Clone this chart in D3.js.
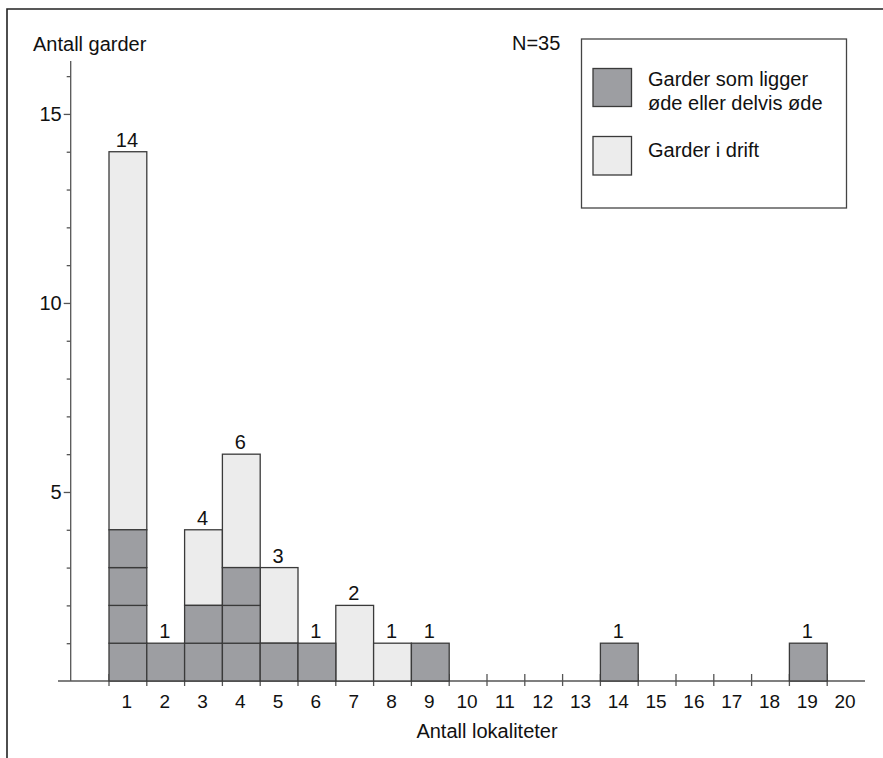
<!DOCTYPE html>
<html>
<head>
<meta charset="utf-8">
<script src="https://cdn.jsdelivr.net/npm/d3@7"></script>
<style>
  html, body { margin: 0; padding: 0; background: #fff; }
  svg { display: block; font-family: "Liberation Sans", Arial, Helvetica, sans-serif; }
</style>
</head>
<body>
<svg id="chart" width="883" height="758"></svg>
<script>
// ---- data ----
const categories = [1,2,3,4,5,6,7,8,9,10,11,12,13,14,15,16,17,18,19,20];
const odeValues   = [4,1,2,3,1,1,0,0,1,0,0,0,0,1,0,0,0,0,1,0]; // Garder som ligger øde eller delvis øde
const driftValues = [10,0,2,3,2,0,2,1,0,0,0,0,0,0,0,0,0,0,0,0]; // Garder i drift
const yMajorTicks = [5,10,15];
const yMinorTicks = [1,2,3,4,6,7,8,9,11,12,13,14,16];
const seriesNames = ["Garder som ligger", "øde eller delvis øde", "Garder i drift"];
const yTitle = "Antall garder";
const xTitle = "Antall lokaliteter";
const nLabel = "N=35";

// ---- layout ----
const svg = d3.select("#chart");
const darkFill = "#9d9ea2", lightFill = "#ececec", lineCol = "#3a3a3a", axisCol = "#555";

const x = d3.scaleBand().domain(categories).range([109, 865]).padding(0);
const y = d3.scaleLinear().domain([0, 16.4]).range([681, 61]);
const yAxisX = 70.7;

// frame (top + left only)
svg.append("path")
  .attr("d", "M7,758 L7,9 L883,9")
  .attr("fill", "none").attr("stroke", "#222").attr("stroke-width", 1.6);

// x-axis ticks at band boundaries
const boundaries = categories.map(c => x(c));
svg.append("g").selectAll("line").data(boundaries).join("line")
  .attr("x1", d => d).attr("x2", d => d)
  .attr("y1", y(0) - 7).attr("y2", y(0) + 5)
  .attr("stroke", axisCol).attr("stroke-width", 1.3);

// x-axis line
svg.append("line")
  .attr("x1", 58).attr("x2", 865).attr("y1", y(0)).attr("y2", y(0))
  .attr("stroke", axisCol).attr("stroke-width", 1.3);

// y axis
const yMajor = svg.append("g").attr("transform", `translate(${yAxisX},0)`)
  .call(d3.axisLeft(y).tickValues(yMajorTicks).tickSize(7).tickPadding(2).tickFormat(d3.format("d")));
const yMinor = svg.append("g").attr("transform", `translate(${yAxisX},0)`)
  .call(d3.axisLeft(y).tickValues(yMinorTicks).tickSize(4).tickFormat(""));
[yMajor, yMinor].forEach(g => {
  g.select(".domain").remove();
  g.selectAll("line").attr("stroke", axisCol).attr("stroke-width", 1.3);
  g.selectAll("text").attr("fill", "#111").style("font-size", "20px");
});
svg.append("line")
  .attr("x1", yAxisX).attr("x2", yAxisX).attr("y1", y(16.4)).attr("y2", y(0))
  .attr("stroke", axisCol).attr("stroke-width", 1.3);

// bars
const data = categories.map((c, i) => ({ c, ode: odeValues[i], drift: driftValues[i], total: odeValues[i] + driftValues[i] }));
const cells = [];
data.forEach(d => { for (let k = 0; k < d.ode; k++) cells.push({ c: d.c, k }); });

svg.append("g").selectAll("rect").data(data.filter(d => d.drift > 0)).join("rect")
  .attr("x", d => x(d.c)).attr("width", x.bandwidth())
  .attr("y", d => y(d.ode + d.drift)).attr("height", d => y(d.ode) - y(d.ode + d.drift))
  .attr("fill", lightFill).attr("stroke", lineCol).attr("stroke-width", 1.3);

svg.append("g").selectAll("rect").data(cells).join("rect")
  .attr("x", d => x(d.c)).attr("width", x.bandwidth())
  .attr("y", d => y(d.k + 1)).attr("height", d => y(d.k) - y(d.k + 1))
  .attr("fill", darkFill).attr("stroke", lineCol).attr("stroke-width", 1.3);

// value labels
svg.append("g").selectAll("text").data(data.filter(d => d.total > 0)).join("text")
  .attr("x", d => x(d.c) + x.bandwidth() / 2 - 1)
  .attr("y", d => y(d.total) - 5)
  .attr("text-anchor", "middle").style("font-size", "20px").attr("fill", "#111")
  .text(d => d.total);

// x tick labels
svg.append("g").selectAll("text").data(categories).join("text")
  .attr("x", d => x(d) + x.bandwidth() / 2 - 1)
  .attr("y", 708)
  .attr("text-anchor", "middle").style("font-size", "19px").attr("fill", "#111")
  .text(d => d);

// titles
svg.append("text").attr("x", 33).attr("y", 51).style("font-size", "20px").attr("fill", "#111").text(yTitle);
svg.append("text").attr("x", 487).attr("y", 738).attr("text-anchor", "middle").style("font-size", "20px").attr("fill", "#111").text(xTitle);
svg.append("text").attr("x", 512).attr("y", 50).style("font-size", "20px").attr("fill", "#111").text(nLabel);

// legend
const lg = svg.append("g");
lg.append("rect").attr("x", 581.5).attr("y", 39).attr("width", 265).attr("height", 169)
  .attr("fill", "#fff").attr("stroke", "#444").attr("stroke-width", 1.3);
lg.append("rect").attr("x", 593).attr("y", 68.5).attr("width", 38.5).attr("height", 38)
  .attr("fill", darkFill).attr("stroke", lineCol).attr("stroke-width", 1.3);
lg.append("rect").attr("x", 593).attr("y", 136.5).attr("width", 38.5).attr("height", 38.5)
  .attr("fill", lightFill).attr("stroke", lineCol).attr("stroke-width", 1.3);
lg.append("text").attr("x", 648).attr("y", 86).style("font-size", "20px").attr("fill", "#111").text(seriesNames[0]);
lg.append("text").attr("x", 648).attr("y", 109.5).style("font-size", "20px").attr("fill", "#111").text(seriesNames[1]);
lg.append("text").attr("x", 648).attr("y", 157).style("font-size", "20px").attr("fill", "#111").text(seriesNames[2]);
</script>
</body>
</html>
